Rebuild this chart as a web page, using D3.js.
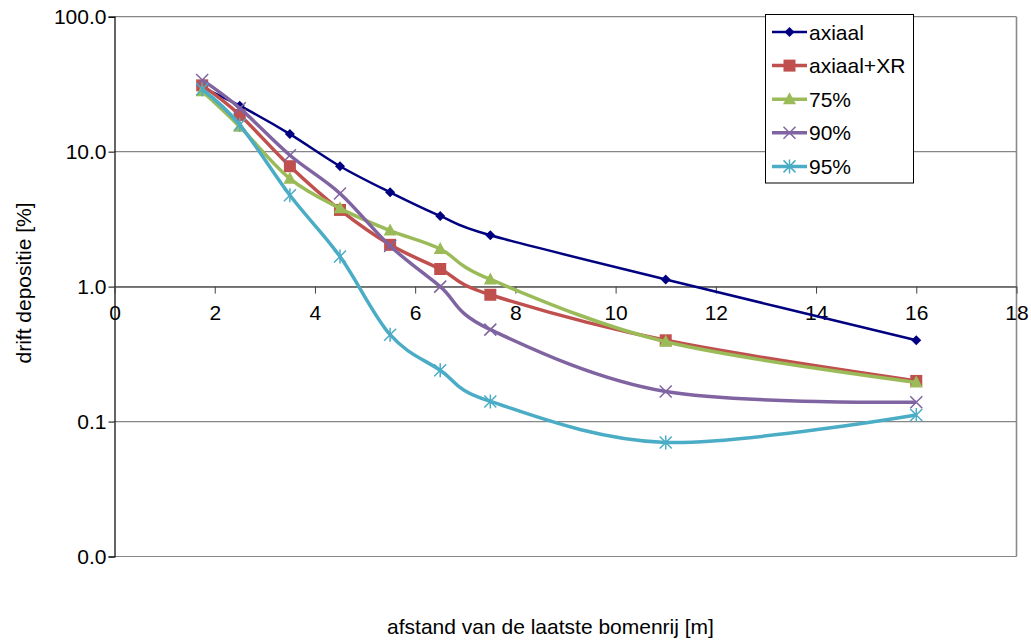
<!DOCTYPE html>
<html>
<head>
<meta charset="utf-8">
<script src="https://cdn.jsdelivr.net/npm/d3@7"></script>
<style>
  body { margin: 0; background: #fff; }
  svg { display: block; font-family: "Liberation Sans", Arial, sans-serif; }
</style>
</head>
<body>
<svg id="chart" width="1031" height="640"></svg>
<script>
// afstand [m]
var distances = [1.75, 2.5, 3.5, 4.5, 5.5, 6.5, 7.5, 11, 16];

// drift depositie [%] per variant
var axiaal   = [30, 21.9, 13.5, 7.8, 5.0, 3.34, 2.40, 1.13, 0.40];
var axiaalXR = [31, 18.7, 7.8, 3.7, 2.04, 1.35, 0.87, 0.40, 0.20];
var p75      = [28, 15.3, 6.3, 3.8, 2.6, 1.9, 1.13, 0.39, 0.195];
var p90      = [34, 21.0, 9.4, 4.9, 2.0, 1.0, 0.48, 0.167, 0.139];
var p95      = [29, 15.8, 4.75, 1.67, 0.44, 0.24, 0.141, 0.070, 0.112];

var seriesNames = ['axiaal', 'axiaal+XR', '75%', '90%', '95%'];
var xTicks = [0, 2, 4, 6, 8, 10, 12, 14, 16, 18];
var yTicks = [0.01, 0.1, 1, 10, 100];

var colors  = ['#000080', '#C0504D', '#9BBB59', '#8064A2', '#4BACC6'];
var markers = ['diamond', 'square', 'triangle', 'cross', 'star'];
var widths  = [2.5, 3.5, 3.5, 3.5, 3.5];

var series = [axiaal, axiaalXR, p75, p90, p95].map(function (vals, i) {
  return {
    name: seriesNames[i],
    color: colors[i],
    marker: markers[i],
    width: widths[i],
    values: vals.map(function (v, j) { return { x: distances[j], y: v }; })
  };
});

var svg = d3.select('#chart');
var plotLeft = 114.5, plotRight = 1016.5, plotTop = 16.7, plotBottom = 556.5;

var x = d3.scaleLinear().domain([0, 18]).range([plotLeft, plotRight]);
var y = d3.scaleLog().domain([0.01, 100]).range([plotBottom, plotTop]);

// gridlines
svg.append('g')
  .selectAll('line')
  .data(yTicks)
  .enter()
  .append('line')
  .attr('x1', plotLeft).attr('x2', plotRight)
  .attr('y1', function (d) { return y(d); })
  .attr('y2', function (d) { return y(d); })
  .attr('stroke', '#868686')
  .attr('stroke-width', 1.2);

// right border of plot area
svg.append('line')
  .attr('x1', plotRight).attr('x2', plotRight)
  .attr('y1', plotTop).attr('y2', plotBottom)
  .attr('stroke', '#8a8a8a')
  .attr('stroke-width', 1.6);

// y axis
var yAxis = svg.append('g')
  .attr('transform', 'translate(' + plotLeft + ',0)')
  .call(d3.axisLeft(y).tickValues(yTicks).tickFormat(d3.format('.1f')).tickSize(6).tickPadding(2));
yAxis.select('.domain').attr('stroke', '#000').attr('stroke-width', 1.2);
yAxis.selectAll('.tick line').attr('stroke', '#000');
yAxis.selectAll('text')
  .attr('font-size', 21)
  .attr('font-family', '"Liberation Sans", Arial, sans-serif')
  .attr('fill', '#000');

// x axis crossing at y = 1
var xAxis = svg.append('g')
  .attr('transform', 'translate(0,' + y(1) + ')')
  .call(d3.axisBottom(x).tickValues(xTicks).tickSize(7).tickPadding(11).tickSizeOuter(0));
xAxis.select('.domain').attr('stroke', '#595959').attr('stroke-width', 1.2);
xAxis.selectAll('.tick line').attr('stroke', '#404040');
xAxis.selectAll('text')
  .attr('font-size', 21)
  .attr('font-family', '"Liberation Sans", Arial, sans-serif')
  .attr('fill', '#000');

// lines
var line = d3.line()
  .x(function (d) { return x(d.x); })
  .y(function (d) { return y(d.y); })
  .curve(d3.curveCardinal.tension(0));

function drawMarker(g, type, color, cx, cy) {
  if (type === 'diamond') {
    g.append('path').attr('d', 'M' + cx + ',' + (cy - 5) + 'L' + (cx + 5) + ',' + cy + 'L' + cx + ',' + (cy + 5) + 'L' + (cx - 5) + ',' + cy + 'Z')
      .attr('fill', color);
  } else if (type === 'square') {
    g.append('rect').attr('x', cx - 6).attr('y', cy - 6).attr('width', 12).attr('height', 12)
      .attr('fill', color);
  } else if (type === 'triangle') {
    g.append('path').attr('d', 'M' + cx + ',' + (cy - 7) + 'L' + (cx + 6.5) + ',' + (cy + 5) + 'L' + (cx - 6.5) + ',' + (cy + 5) + 'Z')
      .attr('fill', color);
  } else if (type === 'cross') {
    g.append('path').attr('d', 'M' + (cx - 6) + ',' + (cy - 6) + 'L' + (cx + 6) + ',' + (cy + 6) + 'M' + (cx + 6) + ',' + (cy - 6) + 'L' + (cx - 6) + ',' + (cy + 6))
      .attr('stroke', color).attr('stroke-width', 1.5).attr('fill', 'none');
  } else if (type === 'star') {
    g.append('path').attr('d', 'M' + (cx - 6) + ',' + (cy - 6) + 'L' + (cx + 6) + ',' + (cy + 6) + 'M' + (cx + 6) + ',' + (cy - 6) + 'L' + (cx - 6) + ',' + (cy + 6) + 'M' + cx + ',' + (cy - 7) + 'L' + cx + ',' + (cy + 7))
      .attr('stroke', color).attr('stroke-width', 1.5).attr('fill', 'none');
  }
}

series.forEach(function (s) {
  var g = svg.append('g');
  g.append('path')
    .datum(s.values)
    .attr('d', line)
    .attr('fill', 'none')
    .attr('stroke', s.color)
    .attr('stroke-width', s.width)
    .attr('stroke-linejoin', 'round');
  s.values.forEach(function (d) {
    drawMarker(g, s.marker, s.color, x(d.x), y(d.y));
  });
});

// legend
var legend = svg.append('g');
legend.append('rect')
  .attr('x', 765.5).attr('y', 14.5).attr('width', 148).attr('height', 168.5)
  .attr('fill', '#fff').attr('stroke', '#000').attr('stroke-width', 1);

series.forEach(function (s, i) {
  var ly = 32 + i * 33.6;
  legend.append('line')
    .attr('x1', 772).attr('x2', 807)
    .attr('y1', ly).attr('y2', ly)
    .attr('stroke', s.color).attr('stroke-width', s.width);
  drawMarker(legend, s.marker, s.color, 789.5, ly);
  legend.append('text')
    .attr('x', 809).attr('y', ly + 7.5)
    .attr('font-size', 21)
    .attr('fill', '#000')
    .text(s.name);
});

// axis titles
svg.append('text')
  .attr('x', (plotLeft + plotRight) / 2 - 15).attr('y', 634)
  .attr('text-anchor', 'middle')
  .attr('font-size', 21)
  .text('afstand van de laatste bomenrij [m]');

svg.append('text')
  .attr('transform', 'translate(31,' + 283 + ') rotate(-90)')
  .attr('text-anchor', 'middle')
  .attr('font-size', 21)
  .text('drift depositie [%]');
</script>
</body>
</html>
